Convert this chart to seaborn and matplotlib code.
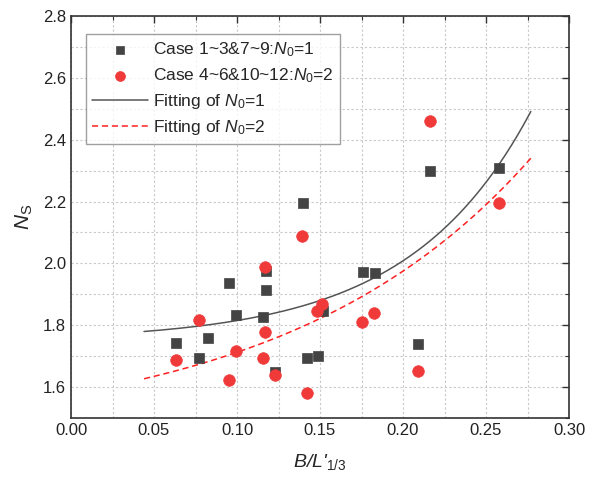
import numpy as np
import pandas as pd
import matplotlib
matplotlib.use("Agg")
import matplotlib.pyplot as plt
from matplotlib.ticker import MultipleLocator
import seaborn as sns

# --- data ---
x_n1 = [0.0633, 0.0773, 0.0823, 0.0952, 0.0992, 0.1155, 0.1173, 0.1173, 0.1229,
        0.1396, 0.1424, 0.1488, 0.1516, 0.1757, 0.1831, 0.2092, 0.2163, 0.2578]
y_n1 = [1.743, 1.695, 1.759, 1.935, 1.833, 1.828, 1.914, 1.976, 1.649,
        2.195, 1.695, 1.699, 1.845, 1.972, 1.969, 1.740, 2.298, 2.309]
x_n2 = [0.0633, 0.0773, 0.0952, 0.0992, 0.1155, 0.1171, 0.1171, 0.1229, 0.1394,
        0.1422, 0.1484, 0.1512, 0.1755, 0.1827, 0.2090, 0.2161, 0.2577]
y_n2 = [1.689, 1.817, 1.622, 1.716, 1.694, 1.778, 1.989, 1.638, 2.087,
        1.580, 1.845, 1.870, 1.809, 1.841, 1.652, 2.462, 2.195]

# exponential fit parameters  y = y0 + A*exp(x/t)
fit1 = dict(y0=1.749, A=0.01687, t=0.0732)
fit2 = dict(y0=1.441, A=0.138, t=0.1478)
fit_range = (0.044, 0.277)

labels = [r"Case 1~3&7~9:$N_{\mathit{0}}$=1", r"Case 4~6&10~12:$N_{\mathit{0}}$=2",
          r"Fitting of $N_{\mathit{0}}$=1", r"Fitting of $N_{\mathit{0}}$=2"]
xticks = [0.00, 0.05, 0.10, 0.15, 0.20, 0.25, 0.30]
yticks = [1.6, 1.8, 2.0, 2.2, 2.4, 2.6, 2.8]

sns.set_style("white")
plt.rcParams["font.family"] = ["Liberation Sans", "DejaVu Sans"]
plt.rcParams["mathtext.fontset"] = "custom"
plt.rcParams["mathtext.rm"] = "Liberation Sans"
plt.rcParams["mathtext.it"] = "Liberation Sans:italic"

fig = plt.figure(figsize=(5.91, 4.78), dpi=100)
ax = fig.add_axes([71/591, 1-418/478, (569-71)/591, (418-16)/478])

df1 = pd.DataFrame({"x": x_n1, "y": y_n1})
df2 = pd.DataFrame({"x": x_n2, "y": y_n2})
sns.scatterplot(data=df1, x="x", y="y", ax=ax, marker="s", s=55,
                color="#444444", edgecolor="#444444", linewidth=0.5,
                label=labels[0], zorder=3)
sns.scatterplot(data=df2, x="x", y="y", ax=ax, marker="o", s=70,
                color="#f03a3a", edgecolor="#f03a3a", linewidth=0.5,
                label=labels[1], zorder=3)

xf = np.linspace(fit_range[0], fit_range[1], 200)
f1 = pd.DataFrame({"x": xf, "y": fit1["y0"] + fit1["A"] * np.exp(xf / fit1["t"])})
f2 = pd.DataFrame({"x": xf, "y": fit2["y0"] + fit2["A"] * np.exp(xf / fit2["t"])})
sns.lineplot(data=f1, x="x", y="y", ax=ax, color="#555555", linewidth=1.1,
             label=labels[2], zorder=2)
sns.lineplot(data=f2, x="x", y="y", ax=ax, color="#ff2020", linewidth=1.1,
             linestyle=(0, (4, 2.5)), label=labels[3], zorder=2)

ax.set_xlim(0, 0.30)
ax.set_ylim(1.5, 2.8)
ax.set_xticks(xticks)
ax.set_yticks(yticks)
ax.set_xticklabels([f"{v:.2f}" for v in xticks])
ax.set_yticklabels([f"{v:.1f}" for v in yticks])
ax.xaxis.set_minor_locator(MultipleLocator(0.025))
ax.yaxis.set_minor_locator(MultipleLocator(0.1))
ax.grid(True, which="both", linestyle=(0, (2, 2)), color="#c8c8c8", linewidth=0.8)
ax.set_axisbelow(True)
ax.tick_params(which="both", direction="in", top=True, right=True,
               labelsize=12, color="#333333", labelcolor="#222222")
ax.tick_params(which="major", length=5, width=1)
ax.tick_params(which="minor", length=3, width=0.8)
for sp in ax.spines.values():
    sp.set_visible(True)
    sp.set_color("#333333")
    sp.set_linewidth(1.2)

ax.set_xlabel(r"B/L'$_{\mathit{1/3}}$", fontsize=14, fontstyle="italic", labelpad=10)
ax.set_ylabel(r"$N_\mathrm{S}$", fontsize=15, labelpad=6)

leg = ax.legend(loc="upper left", bbox_to_anchor=(0.03, 0.955), fontsize=12.5,
                frameon=True, fancybox=False, edgecolor="#888888",
                handlelength=3.2, handletextpad=0.3, borderpad=0.35,
                labelspacing=0.42, borderaxespad=0, markerscale=0.85)
leg.get_frame().set_linewidth(1.0)

fig.savefig("out.png", dpi=100)
